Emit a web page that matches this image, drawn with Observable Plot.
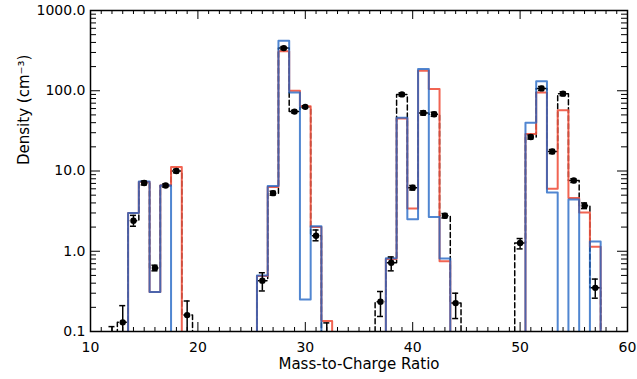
<!DOCTYPE html>
<html><head><meta charset="utf-8">
<script src="https://cdn.jsdelivr.net/npm/d3@7"></script>
<script src="https://cdn.jsdelivr.net/npm/@observablehq/plot@0.6"></script>
<style>
body{margin:0;background:#fff;}
#chart svg{font-family:"DejaVu Sans",sans-serif;background:#fff;}
</style></head><body><div id="chart"></div>
<script>
// Mass-to-charge bins (centres) in four clusters
const mass = [12,13,14,15,16,17,18,19, 25,26,27,28,29,30,31,32,33, 36,37,38,39,40,41,42,43,44,45, 49,50,51,52,53,54,55,56,57,58];
// Model densities (blue histogram)
const modelBlue = [0,0,3.0,7.4,0.31,6.6,0,0, 0,0.50,6.5,420,95,0.25,2.05,0,0, 0,0,0.82,46,2.5,186,2.67,0.81,0,0, 0,0,40,131,5.4,0,4.4,0,1.32,0];
// Model densities (red histogram)
const modelRed  = [0,0,3.0,7.3,0.31,6.6,11.2,0, 0,0.49,6.3,310,100,64,2.0,0.135,0, 0,0,0.80,45,3.4,178,105,0.75,0,0, 0,0,29,95,6.0,57,4.6,3.05,1.14,0];
// Observed densities (points + dashed histogram)
const observed  = [0.08,0.13,2.4,7.1,0.62,6.6,10.0,0.16, 0,0.43,5.3,340,55,63,1.56,0.08,0, 0,0.235,0.72,90,6.2,53,51,2.77,0.226,0, 0,1.27,26.5,107,17.5,92,7.6,3.7,0.35,0];
const errLow    = [0.06,0.07,2.05,6.7,0.57,6.3,9.5,0.08, 0,0.32,5.0,325,53,61,1.35,0.06,0, 0,0.154,0.57,86,5.8,50,48,2.6,0.145,0, 0,1.07,25,101,16.5,87,7.2,3.4,0.26,0];
const errHigh   = [0.115,0.21,2.8,7.5,0.67,6.9,10.5,0.24, 0,0.54,5.6,355,57,65,1.84,0.128,0, 0,0.315,0.85,94,6.6,56,54,2.95,0.30,0, 0,1.44,28,113,18.5,97,8.0,4.0,0.45,0];

const xMajorTicks = [10,20,30,40,50,60];
const yMajorTicks = [0.1,1,10,100,1000];
const xLabel = "Mass-to-Charge Ratio";
const yLabel = "Density (cm⁻³)";

const W = 637, H = 379, mL = 90, mR = 10, mT = 10, mB = 48;
const pw = W - mL - mR, ph = H - mT - mB;
const FLOOR = 0.05;

// split indices into contiguous clusters
const clusters = [];
mass.forEach((m, i) => {
  if (i === 0 || m !== mass[i - 1] + 1) clusters.push([]);
  clusters[clusters.length - 1].push(i);
});

function stepPoints(values, name) {
  const pts = [];
  clusters.forEach((g, gi) => {
    const nz = g.filter(i => values[i] > 0);
    if (!nz.length) return;
    const seg = g.slice(g.indexOf(nz[0]), g.indexOf(nz[nz.length - 1]) + 1);
    const key = name + gi;
    pts.push({x: mass[seg[0]] - 0.5, y: FLOOR, key});
    seg.forEach(i => pts.push({x: mass[i] - 0.5, y: Math.max(values[i], FLOOR), key}));
    pts.push({x: mass[seg[seg.length - 1]] + 0.5, y: FLOOR, key});
  });
  return pts;
}

const redPts = stepPoints(modelRed, "r");
const bluePts = stepPoints(modelBlue, "b");
const obsPts = stepPoints(observed, "o");

const obs = mass.map((m, i) => ({m, v: observed[i], lo: errLow[i], hi: errHigh[i]}));
const errs = obs.filter(d => d.hi > 0.1).map(d => ({...d, lo: Math.max(d.lo, 0.1)}));
const caps = [];
errs.forEach(d => {
  if (d.hi <= 1000) caps.push({m: d.m, y: d.hi});
  if (d.lo > 0.1) caps.push({m: d.m, y: d.lo});
});
const dots = obs.filter(d => d.v >= 0.1);

const xMinor = d3.range(10, 61).filter(v => v % 10 !== 0);
const yMinor = [];
[0.1, 1, 10, 100].forEach(b => { for (let k = 2; k <= 9; k++) yMinor.push(b * k); });

const chart = Plot.plot({
  width: W, height: H,
  marginLeft: mL, marginRight: mR, marginTop: mT, marginBottom: mB,
  style: {fontSize: "14px", fontFamily: "DejaVu Sans, sans-serif", color: "black", background: "white"},
  x: {domain: [10, 60]},
  y: {type: "log", domain: [0.1, 1000]},
  marks: [
    Plot.line(obsPts, {x: "x", y: "y", z: "key", curve: "step-after", stroke: "black", strokeWidth: 1.5, strokeDasharray: "5,3", clip: true}),
    Plot.line(redPts, {x: "x", y: "y", z: "key", curve: "step-after", stroke: "#f0533f", strokeWidth: 2, strokeOpacity: 0.9, clip: true}),
    Plot.line(bluePts, {x: "x", y: "y", z: "key", curve: "step-after", stroke: "#1f64c4", strokeWidth: 2, strokeOpacity: 0.78, clip: true}),
    Plot.ruleX(errs, {x: "m", y1: "lo", y2: "hi", stroke: "black", strokeWidth: 1.5, clip: true}),
    Plot.ruleY(caps, {x1: d => d.m - 0.28, x2: d => d.m + 0.28, y: "y", stroke: "black", strokeWidth: 1.5}),
    Plot.dot(dots, {x: "m", y: "v", r: 3.2, fill: "black", stroke: "none"}),
    // inward ticks: bottom/top
    Plot.tickX(xMinor, {x: d => d, insetTop: ph - 4, stroke: "black"}),
    Plot.tickX(xMinor, {x: d => d, insetBottom: ph - 4, stroke: "black"}),
    Plot.tickX(xMajorTicks, {x: d => d, insetTop: ph - 9, stroke: "black"}),
    Plot.tickX(xMajorTicks, {x: d => d, insetBottom: ph - 9, stroke: "black"}),
    // inward ticks: left/right
    Plot.tickY(yMinor, {y: d => d, insetRight: pw - 6, stroke: "black"}),
    Plot.tickY(yMinor, {y: d => d, insetLeft: pw - 6, stroke: "black"}),
    Plot.tickY(yMajorTicks, {y: d => d, insetRight: pw - 10, stroke: "black"}),
    Plot.tickY(yMajorTicks, {y: d => d, insetLeft: pw - 10, stroke: "black"}),
    Plot.frame({stroke: "black", strokeWidth: 1.5}),
    Plot.axisX({ticks: xMajorTicks, tickSize: 0, tickPadding: 11, tickFormat: d => String(d), label: null}),
    Plot.axisY({ticks: yMajorTicks, tickSize: 0, tickPadding: 5, tickFormat: d3.format(".1f"), label: null}),
    Plot.text([xLabel], {text: d => d, frameAnchor: "bottom", dy: 37, fill: "black", fontSize: 15}),
    Plot.text([yLabel], {text: d => d, frameAnchor: "left", dx: -66, dy: -6, rotate: -90, fill: "black", fontSize: 15})
  ]
});
document.getElementById("chart").appendChild(chart);
</script>
</body></html>
